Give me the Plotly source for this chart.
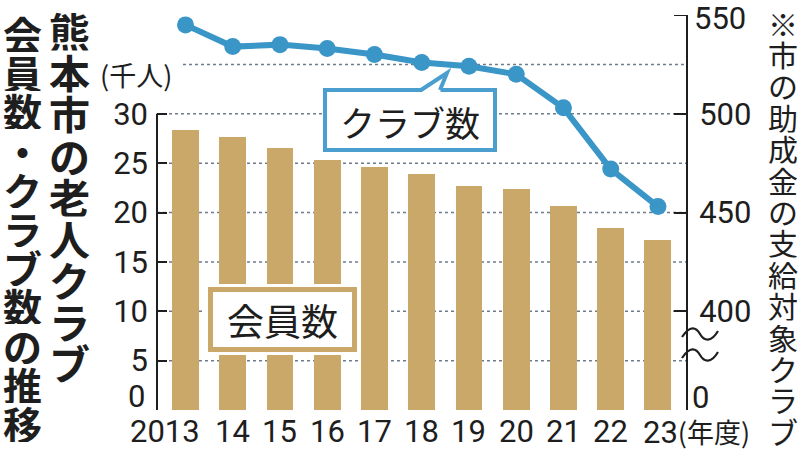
import plotly.graph_objects as go

# ---------------- data ----------------
YEARS = ["2013", "14", "15", "16", "17", "18", "19", "20", "21", "22", "23"]
MEMBERS = [28.4, 27.6, 26.5, 25.3, 24.6, 23.9, 22.7, 22.4, 20.7, 18.4, 17.2]   # 千人
CLUBS = [545, 534, 535, 533, 530, 526, 524, 520, 503, 472, 453]                # クラブ
LEFT_TICKS = [0, 5, 10, 15, 20, 25, 30]
RIGHT_TICKS = [350, 400, 450, 500, 550]
RIGHT_TICKTEXT = ["0", "400", "450", "500", "550"]
GRID_LEVELS = [5, 10, 15, 20, 25, 30, 35]

TITLE_COL1 = "熊本市の老人クラブ"
TITLE_COL2 = "会員数・クラブ数の推移"
RIGHT_NOTE = "※市の助成金の支給対象クラブ"
LEFT_UNIT = "(千人)"
X_UNIT = "(年度)"
BAR_LABEL = "会員数"
LINE_LABEL = "クラブ数"

# ---------------- style ----------------
BAR_COLOR = "#c9a86a"
LINE_COLOR = "#3b96c8"
BOX_BLUE = "#4a9fd0"
INK = "#1e1e1e"
GRID_COLOR = "#6f7c8c"
NUM_FONT = "Roboto, sans-serif"
JP_FONT = "Noto Sans CJK JP, sans-serif"
NUM_SIZE = 31

W, H = 800, 452
L, R, T, B = 157, 686, 15, 410


def px(x):
    return (x - L) / (R - L)


def py(y):
    return (B - y) / (B - T)


fig = go.Figure()
fig.add_bar(x=YEARS, y=MEMBERS, width=0.571,
            marker=dict(color=BAR_COLOR, line_width=0), yaxis="y")
fig.add_scatter(x=YEARS, y=CLUBS, mode="lines+markers", yaxis="y2",
                line=dict(color=LINE_COLOR, width=6),
                marker=dict(size=17, color=LINE_COLOR), cliponaxis=False)

shapes = []
# dotted gridlines
for g in GRID_LEVELS:
    shapes.append(dict(type="line", xref="paper", yref="y",
                       x0=px(183) if g == 35 else 0, x1=1, y0=g, y1=g,
                       line=dict(color=GRID_COLOR, width=1.5, dash="dot"),
                       layer="below"))
# left axis line (0-30)
shapes.append(dict(type="line", xref="paper", yref="y", x0=0, x1=0,
                   y0=LEFT_TICKS[0], y1=LEFT_TICKS[-1],
                   line=dict(color=INK, width=2), layer="above"))
# top tick of the right axis
shapes.append(dict(type="line", xref="paper", yref="y2", x0=px(674), x1=1,
                   y0=RIGHT_TICKS[-1], y1=RIGHT_TICKS[-1],
                   line=dict(color=INK, width=2), layer="above"))


def rect(x0, y0, x1, y1, **kw):
    return dict(type="rect", xref="paper", yref="paper",
                x0=px(x0), x1=px(x1), y0=py(y1), y1=py(y0), **kw)


# 会員数 box
shapes.append(rect(205, 284, 360, 355, fillcolor="white", line=dict(width=0), layer="above"))
shapes.append(rect(210.5, 289.5, 354.5, 349.5, fillcolor="white",
                   line=dict(color=BAR_COLOR, width=5), layer="above"))
# クラブ数 callout box
shapes.append(rect(325, 90, 495, 150, fillcolor="white",
                   line=dict(color=BOX_BLUE, width=4), layer="above"))


def path(points, close=False):
    s = ""
    for i, (x, y) in enumerate(points):
        s += ("M" if i == 0 else "L") + f"{px(x)},{py(y)} "
    return s + ("Z" if close else "")


shapes.append(dict(type="path", xref="paper", yref="paper",
                   path=path([(421, 92.5), (447, 73), (440, 92.5)], close=True),
                   fillcolor="white", line=dict(width=0), layer="above"))
shapes.append(dict(type="path", xref="paper", yref="paper",
                   path=path([(421, 90), (447, 73), (440, 90)]),
                   fillcolor="rgba(0,0,0,0)", line=dict(color=BOX_BLUE, width=4),
                   layer="above"))


# axis break tildes
def tilde(c):
    pts = [(682, c + 3), (690, c - 9), (696, c - 7), (700, c),
           (704, c + 7), (711, c + 9), (718, c - 3)]
    s = f"M{px(pts[0][0])},{py(pts[0][1])} C"
    s += " ".join(f"{px(x)},{py(y)}" for x, y in pts[1:4])
    s += " C" + " ".join(f"{px(x)},{py(y)}" for x, y in pts[4:])
    return dict(type="path", xref="paper", yref="paper", path=s,
                line=dict(color=INK, width=2.2), layer="above")


shapes.append(tilde(334))
shapes.append(tilde(355))

annotations = []


def vchar(ch, x, yc, size, pitch, bold):
    return dict(text=f"<b>{ch}</b>" if bold else ch, x=px(x), y=py(yc),
                xref="paper", yref="paper", showarrow=False,
                xanchor="center", yanchor="middle", height=pitch - 1,
                font=dict(family=JP_FONT, size=size, color=INK))


# vertical titles
for i, ch in enumerate(TITLE_COL1):
    annotations.append(vchar(ch, 69, 30.5 + i * 41.5, 41, 41.5, True))
for i, ch in enumerate(TITLE_COL2):
    annotations.append(vchar(ch, 22, 32.5 + i * 39, 39, 39, True))
for i, ch in enumerate(RIGHT_NOTE):
    annotations.append(vchar(ch, 783, 22.7 + i * 31.4, 30, 31.4, False))
# unit label
annotations.append(dict(text=LEFT_UNIT, x=px(136), y=py(74), xref="paper", yref="paper",
                        showarrow=False, xanchor="center", yanchor="middle",
                        font=dict(family=JP_FONT, size=27, color=INK)))
# zero labels (sit a little above the baseline, as in the original)
annotations.append(dict(text=str(LEFT_TICKS[0]), x=px(147), y=py(396), xref="paper", yref="paper",
                        showarrow=False, xanchor="right", yanchor="middle",
                        font=dict(family=NUM_FONT, size=NUM_SIZE, color=INK)))
annotations.append(dict(text=RIGHT_TICKTEXT[0], x=px(690), y=py(397), xref="paper", yref="paper",
                        showarrow=False, xanchor="left", yanchor="middle",
                        font=dict(family=NUM_FONT, size=NUM_SIZE, color=INK)))
# top label of the right axis
annotations.append(dict(text=RIGHT_TICKTEXT[-1], x=px(692), y=RIGHT_TICKS[-1], xref="paper", yref="y2",
                        showarrow=False, xanchor="left", yanchor="middle", yshift=-3, height=30,
                        font=dict(family=NUM_FONT, size=NUM_SIZE, color=INK)))
# x labels
n = len(YEARS)
for i, lab in enumerate(YEARS):
    if i == 0:
        a = dict(text=lab, xanchor="right", xshift=17)
    elif i == n - 1:
        a = dict(text=lab + f"<span style='font-family:Noto Sans CJK JP;font-size:27px'>{X_UNIT}</span>",
                 xanchor="left", xshift=-17)
    else:
        a = dict(text=lab, xanchor="center")
    a.update(x=i, y=py(431), xref="x", yref="paper", showarrow=False, yanchor="middle",
             font=dict(family=NUM_FONT, size=NUM_SIZE, color=INK))
    annotations.append(a)
# legend box labels
annotations.append(dict(text=BAR_LABEL, x=px(282.5), y=py(320), xref="paper", yref="paper",
                        showarrow=False, xanchor="center", yanchor="middle",
                        font=dict(family=JP_FONT, size=37, color=INK)))
annotations.append(dict(text=LINE_LABEL, x=px(410), y=py(121), xref="paper", yref="paper",
                        showarrow=False, xanchor="center", yanchor="middle",
                        font=dict(family=JP_FONT, size=35, color=INK)))

fig.update_layout(
    width=W, height=H,
    margin=dict(l=L, r=W - R, t=T, b=H - B),
    paper_bgcolor="white", plot_bgcolor="white",
    showlegend=False, bargap=0,
    shapes=shapes, annotations=annotations,
    xaxis=dict(type="category", range=[-0.603, 10.593], showticklabels=False,
               showgrid=False, zeroline=False, showline=False, ticks=""),
    yaxis=dict(range=[0, 40], tickvals=LEFT_TICKS,
               ticktext=[""] + [str(v) for v in LEFT_TICKS[1:]],
               ticks="inside", ticklen=10, tickwidth=2, tickcolor=INK,
               showgrid=False, zeroline=False, showline=False, ticklabelstandoff=8,
               tickfont=dict(family=NUM_FONT, size=NUM_SIZE, color=INK)),
    yaxis2=dict(overlaying="y", side="right", range=[350, 550],
                tickvals=RIGHT_TICKS[:-1], ticktext=[""] + RIGHT_TICKTEXT[1:-1],
                ticks="inside", ticklen=12, tickwidth=2, tickcolor=INK,
                showline=True, linewidth=2, linecolor=INK,
                showgrid=False, zeroline=False, ticklabelstandoff=5,
                tickfont=dict(family=NUM_FONT, size=NUM_SIZE, color=INK)),
)

fig.write_html("out.html")
